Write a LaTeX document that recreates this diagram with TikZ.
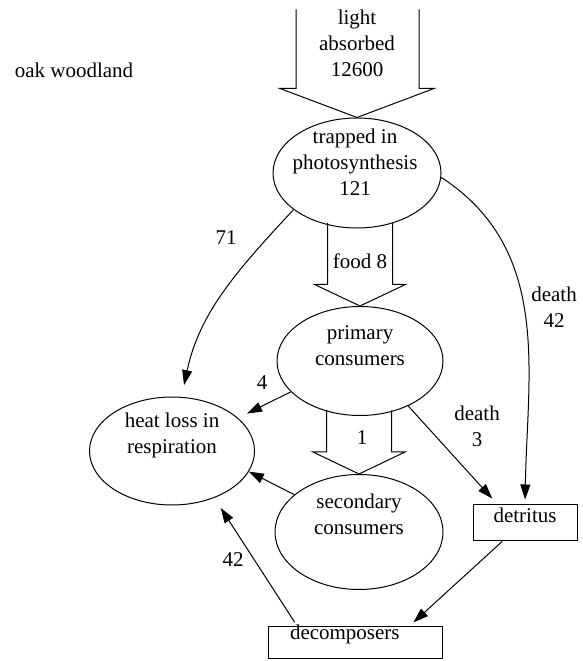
\documentclass[tikz,border=0pt]{standalone}
\usepackage{fontspec}
\setmainfont{Liberation Serif}
\usetikzlibrary{arrows.meta}
\usetikzlibrary{shapes}

\begin{document}
\begin{tikzpicture}[x=1pt,y=1pt]
\tikzstyle{every node}=[font=\fontsize{21}{26}\selectfont, inner sep=0pt, align=center]
\tikzstyle{blob}=[ellipse, draw, line width=1pt]
\tikzstyle{box}=[rectangle, draw, line width=1pt]
\tikzstyle{flow}=[line width=1pt, -{Triangle[length=15pt,width=10pt]}]
\tikzstyle{fat}=[line width=1pt]
\useasboundingbox (0,0) rectangle (582,661);

% compartments
\node[blob, minimum width=168pt, minimum height=110pt] (photo) at (357,488) {};
\node[blob, minimum width=166pt, minimum height=109pt] (primary) at (360,300) {};
\node[blob, minimum width=168pt, minimum height=115pt] (secondary) at (359,129) {};
\node[blob, minimum width=165pt, minimum height=108pt] (heat) at (172,210) {};
\node[box, minimum width=104pt, inner ysep=2pt, text height=16pt, text depth=16pt] (detritus) at (525,138) {detritus};
\node[box, text width=130pt, align=left, inner xsep=22pt, inner ysep=0pt, text height=13pt, text depth=19pt] (decomp) at (355,18) {decomposers};

\node (photo-t) at (355,499) {trapped in\\photosynthesis\\121};
\node (primary-t) at (360,315) {primary\\consumers};
\node (secondary-t) at (359,147) {secondary\\consumers};
\node (heat-t) at (172,226) {heat loss in\\respiration};
\node (title) at (74,591) {oak woodland};

% big arrows
\draw[fat, shift={(photo.north)}] (-61,108) -- (-61,29) -- (-77,29) -- (0,0) -- (77,29) -- (62,29) -- (62,108);
\node (light) at (357,618) {light\\absorbed\\12600};
\draw[fat, shift={(primary.north)}] (-32.5,83) -- (-32.5,21.5) -- (-45.5,21.5) -- (0,0) -- (45.5,21.5) -- (32.5,21.5) -- (32.5,83);
\node (food) at (360,400) {food 8};
\draw[fat, shift={(secondary.north)}] (-32.5,63.5) -- (-32.5,22) -- (-46,22) -- (0,0) -- (46,22) -- (32.5,22) -- (32.5,63.5);
\node (one) at (362,223) {1};

% flows
\draw[flow, shorten >=12pt] (photo.210) to[out=227,in=78] (heat.80);
\node (l71) at (226,423) {71};
\draw[flow, shorten >=10pt] (primary.204) -- (heat);
\node (l4) at (262,278) {4};
\draw[flow] (secondary.150) -- (heat.-15);
\draw[flow, shorten <=5pt, shorten >=12pt] (decomp.164) -- (heat.-48);
\node (l42) at (233,101) {42};
\draw[flow, shorten >=8pt] (primary.-43) -- (detritus.146);
\node (death3) at (477,235) {death\\3};
\draw[flow, shorten >=5pt] (photo.-3) to[out=-33,in=89] (detritus.north);
\node (death42) at (554,354) {death\\42};
\draw[flow, shorten >=6pt] (detritus.219) -- (decomp.17);
\end{tikzpicture}
\end{document}
